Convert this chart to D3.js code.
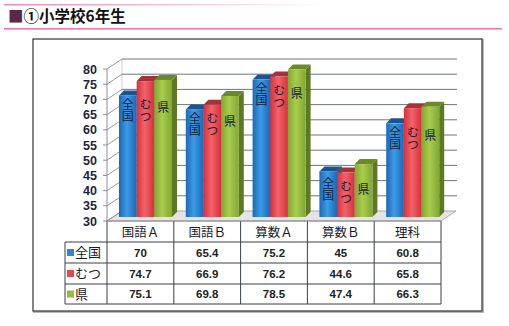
<!DOCTYPE html>
<html><head><meta charset="utf-8">
<script src="https://cdn.jsdelivr.net/npm/d3@7"></script>
<style>body{margin:0;background:#fff}svg{display:block}</style>
</head><body>
<script>
const categories = ["国語Ａ","国語Ｂ","算数Ａ","算数Ｂ","理科"];
const seriesNames = ["全国","むつ","県"];
const zenkoku = [70,65.4,75.2,45,60.8];
const mutsu = [74.7,66.9,76.2,44.6,65.8];
const ken = [75.1,69.8,78.5,47.4,66.3];
const valueLabels = [["70","65.4","75.2","45","60.8"],["74.7","66.9","76.2","44.6","65.8"],["75.1","69.8","78.5","47.4","66.3"]];
const yTicks = [30,35,40,45,50,55,60,65,70,75,80];
const series = [zenkoku, mutsu, ken];

const W=509,H=326;
const svg=d3.select("body").append("svg").attr("width",W).attr("height",H);
const defs=svg.append("defs");
const JP='"Noto Sans CJK JP","Noto Sans",sans-serif';

// title decoration
const lg=defs.append("linearGradient").attr("id","pink").attr("x1","0").attr("x2","1");
lg.append("stop").attr("offset","0").attr("stop-color","#e888c0");
lg.append("stop").attr("offset","0.5").attr("stop-color","#f4c0dc");
lg.append("stop").attr("offset","1").attr("stop-color","#ffffff");
svg.append("rect").attr("x",4).attr("y",4).attr("width",320).attr("height",1.5).attr("fill","url(#pink)");
svg.append("rect").attr("x",4).attr("y",28).attr("width",498).attr("height",1.6).attr("fill","#e878b4");
const title=svg.append("text").attr("x",8).attr("y",22).attr("font-family",JP).attr("font-weight","bold").attr("font-size",15.5);
title.append("tspan").attr("fill","#5a2848").text("■");
title.append("tspan").attr("fill","#111").text("①小学校6年生");

// outer box
svg.append("rect").attr("x",34).attr("y",40).attr("width",449).attr("height",272).attr("fill","none").attr("stroke","#bbb").attr("stroke-width",2);
svg.append("rect").attr("x",33).attr("y",39).attr("width",449).attr("height",272).attr("fill","#fff").attr("stroke","#333").attr("stroke-width",1.2);

const x0=107,x1=441;
const y=d3.scaleLinear().domain([30,80]).range([221,69]);
const x=d3.scaleBand().domain(categories).range([x0,x1]);
const xs=d3.scaleBand().domain(seriesNames).range([12,65]);
const DX=15,DY=10;

// floor
svg.append("path").attr("d",`M${x0},${y(30)}L${x1},${y(30)}L${x1+DX},${y(30)-DY}L${x0+DX},${y(30)-DY}Z`)
  .attr("fill","#e4e4e4").attr("stroke","#999").attr("stroke-width",0.8);
// gridlines back wall and left wall
yTicks.forEach(t=>{
  const yy=y(t);
  if(t>30) svg.append("line").attr("x1",x0+DX).attr("x2",x1+DX+1).attr("y1",yy-DY).attr("y2",yy-DY).attr("stroke","#6f7480").attr("stroke-width",1);
  svg.append("line").attr("x1",x0).attr("x2",x0+DX).attr("y1",yy).attr("y2",yy-DY).attr("stroke","#8a8f99").attr("stroke-width",0.9);
  svg.append("line").attr("x1",x0-4).attr("x2",x0).attr("y1",yy).attr("y2",yy).attr("stroke","#8a8f99");
});
svg.append("line").attr("x1",x0+DX).attr("x2",x0+DX).attr("y1",y(80)-DY).attr("y2",y(30)-DY).attr("stroke","#aaa").attr("stroke-width",0.6);
// y axis
const ax=svg.append("g").attr("transform",`translate(${x0-4},0)`).call(d3.axisLeft(y).tickValues(yTicks).tickSize(0).tickPadding(6));
ax.select(".domain").remove();
ax.selectAll("text").attr("font-family","Liberation Sans, Arial").attr("font-weight","bold").attr("font-size",12.5).attr("fill","#1c2440");
svg.append("line").attr("x1",x0).attr("x2",x0).attr("y1",y(80)).attr("y2",y(30)).attr("stroke","#8a8f99");

// bars
const cols=[{f:["#1b68b8","#3d9be6"],top:"#1a5590",side:"#154a80"},
            {f:["#d8303a","#f2636a"],top:"#a83038",side:"#a02a30"},
            {f:["#82a832","#a8cc4c"],top:"#6a8a28",side:"#5d7a22"}];
cols.forEach((c,i)=>{
  const g=defs.append("linearGradient").attr("id","g"+i).attr("x1","0").attr("x2","1");
  g.append("stop").attr("offset","0").attr("stop-color",c.f[0]);
  g.append("stop").attr("offset","0.45").attr("stop-color",c.f[1]);
  g.append("stop").attr("offset","1").attr("stop-color",c.f[0]);
});
const bd=5, by=4; // bar depth, bar shift
const yb=v=>y(v)-by;
const base=yb(30);
categories.forEach((cat,ci)=>{
  const g=svg.append("g");
  series.forEach((s,si)=>{
    const bx=x(cat)+xs(seriesNames[si]); const w=xs.bandwidth(); const yt=yb(s[ci]);
    g.append("path").attr("d",`M${bx+w},${yt}L${bx+w+bd},${yt-bd}L${bx+w+bd},${base-bd}L${bx+w},${base}Z`).attr("fill",cols[si].side);
    g.append("path").attr("d",`M${bx},${yt}L${bx+w},${yt}L${bx+w+bd},${yt-bd}L${bx+bd},${yt-bd}Z`).attr("fill",cols[si].top);
    g.append("rect").attr("x",bx).attr("y",yt).attr("width",w).attr("height",base-yt).attr("fill",`url(#g${si})`);
  });
  // labels (vertical text)
  const cx=si=>x(cat)+xs(seriesNames[si])+xs.bandwidth()/2;
  const yB=yb(zenkoku[ci]), yR=yb(mutsu[ci]);
  const redC=Math.max(yR+14,yB+9);
  const blueC=Math.max(redC-3,yB+9);
  const greenC=redC+3;
  const lab=(si,txt,c0)=>g.append("text").attr("x",cx(si)).attr("y",c0-6).attr("writing-mode","tb")
      .attr("font-family",JP).attr("font-size",12).attr("fill","#14203a").text(txt);
  lab(0,"全国",blueC);
  lab(1,"むつ",redC);
  lab(2,"県",greenC);
});

// table
const rowY=[221,242,263,284,304];
const tl=65;
const T=svg.append("g").attr("stroke","#3a3f4a").attr("stroke-width",1);
T.append("line").attr("x1",tl).attr("x2",x1).attr("y1",242).attr("y2",242);
[263,284,304].forEach(r=>T.append("line").attr("x1",tl).attr("x2",x1).attr("y1",r).attr("y2",r));
T.append("line").attr("x1",tl).attr("x2",tl).attr("y1",242).attr("y2",304);
categories.forEach(c=>T.append("line").attr("x1",x(c)).attr("x2",x(c)).attr("y1",221).attr("y2",304));
T.append("line").attr("x1",x1).attr("x2",x1).attr("y1",221).attr("y2",304);
T.append("line").attr("x1",x0).attr("x2",x1).attr("y1",221).attr("y2",221).attr("stroke","#888");
categories.forEach(c=>svg.append("text").attr("x",x(c)+x.bandwidth()/2).attr("y",232).attr("dy","0.36em").attr("text-anchor","middle")
  .attr("font-family",JP).attr("font-size",12.5).attr("fill","#1a1a2a").text(c));
const legCol=["#2f86d6","#e04750","#95bb3a"];
seriesNames.forEach((n,si)=>{
  const cy=(rowY[si+1]+rowY[si+2])/2;
  svg.append("rect").attr("x",67).attr("y",cy-3.5).attr("width",7).attr("height",7).attr("fill",legCol[si]);
  svg.append("text").attr("x",75).attr("y",cy).attr("dy","0.36em").attr("font-family",JP).attr("font-size",13).attr("fill","#1a1a2a").text(n);
  categories.forEach((c,ci)=>svg.append("text").attr("x",x(c)+x.bandwidth()/2).attr("y",cy).attr("dy","0.36em").attr("text-anchor","middle")
    .attr("font-family","Liberation Sans, Arial").attr("font-weight","bold").attr("font-size",11.5).attr("fill","#222").text(valueLabels[si][ci]));
});
</script>
</body></html>
